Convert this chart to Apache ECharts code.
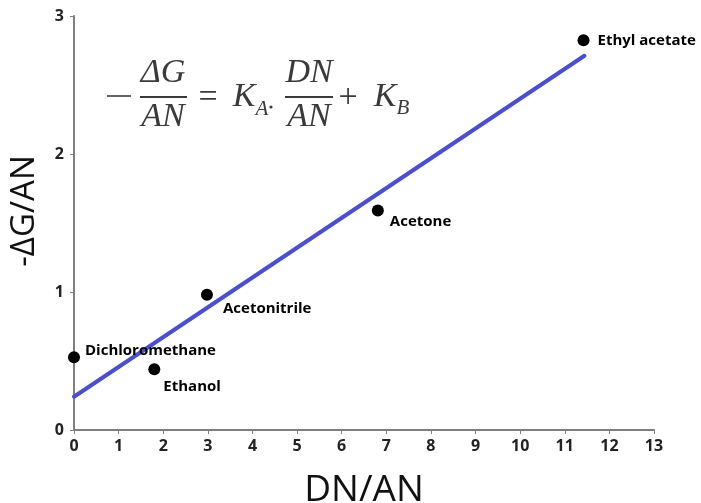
<!DOCTYPE html>
<html>
<head>
<meta charset="utf-8">
<script src="https://cdn.jsdelivr.net/npm/echarts@6/dist/echarts.min.js"></script>
<style>
  html, body { margin: 0; padding: 0; background: #ffffff; }
  #chart { width: 701px; height: 503px; }
</style>
</head>
<body>
<div id="chart"></div>
<script>
// Solvents: donor number / acceptor number vs. -ΔG / acceptor number
const solvents = ['Dichloromethane', 'Ethanol', 'Acetonitrile', 'Acetone', 'Ethyl acetate'];
const dnOverAn = [0.0, 1.80, 2.98, 6.81, 11.42];
const dGOverAn = [0.527, 0.44, 0.98, 1.59, 2.824];

// Linear fit -ΔG/AN = KA·DN/AN + KB, drawn over the span of the data
const fitX = [0, 11.44];
const fitY = [0.241, 2.712];

// Label offsets (px) for each solvent name relative to its point
const labelOffsets = [[0, -7], [-2, 17], [5, 14], [1, 11], [3, 0]];

const xTicks = { min: 0, max: 13, step: 1 };
const yTicks = { min: 0, max: 3, step: 1 };

const chart = echarts.init(document.getElementById('chart'), null, { renderer: 'canvas' });

const points = solvents.map((name, i) => ({
  name: name,
  value: [dnOverAn[i], dGOverAn[i]],
  label: { offset: labelOffsets[i] }
}));

const fitLine = fitX.map((x, i) => [x, fitY[i]]);

const tickFont = {
  fontFamily: 'Open Sans',
  fontWeight: 700,
  fontSize: 16,
  color: '#222222'
};

// Equation text drawn in the upper-left of the plot
const eqColor = '#3a3a3a';
const eqFont = 'italic 34px "Liberation Serif"';
const eqSubFont = 'italic 21px "Liberation Serif"';
const eqPlain = '34px "Liberation Serif"';
function eqText(str, x, y, font) {
  return {
    type: 'text', x: x, y: y,
    style: { text: str, font: font, fill: eqColor, align: 'center', verticalAlign: 'middle' }
  };
}
function eqBar(x1, x2, y, w) {
  return {
    type: 'line',
    shape: { x1: x1, y1: y, x2: x2, y2: y },
    style: { stroke: eqColor, lineWidth: w }
  };
}

const option = {
  backgroundColor: '#ffffff',
  animation: false,
  grid: { left: 74, right: 47, top: 16, bottom: 73, containLabel: false, outerBoundsMode: 'none' },
  xAxis: {
    type: 'value',
    min: xTicks.min, max: xTicks.max, interval: xTicks.step,
    name: 'DN/AN',
    nameLocation: 'middle',
    nameGap: 42,
    nameTextStyle: { fontFamily: 'Open Sans', fontSize: 37, color: '#111111' },
    axisLine: { show: true, onZero: false, lineStyle: { color: '#7f7f7f', width: 2 } },
    axisTick: { show: true, length: 4, lineStyle: { color: '#7f7f7f', width: 1 } },
    axisLabel: Object.assign({ margin: 8 }, tickFont),
    splitLine: { show: false }
  },
  yAxis: {
    type: 'value',
    min: yTicks.min, max: yTicks.max, interval: yTicks.step,
    name: '-ΔG/AN',
    nameLocation: 'middle',
    nameGap: 33,
    nameTextStyle: { fontFamily: 'Open Sans', fontSize: 33, color: '#111111', padding: [0, 0, 0, 24] },
    axisLine: { show: true, lineStyle: { color: '#7f7f7f', width: 2 } },
    axisTick: { show: true, length: 4, lineStyle: { color: '#7f7f7f', width: 1 } },
    axisLabel: Object.assign({ margin: 10 }, tickFont),
    splitLine: { show: false }
  },
  series: [
    {
      type: 'line',
      data: fitLine,
      symbol: 'none',
      lineStyle: { color: '#4a4fcf', width: 4, cap: 'round' },
      z: 2
    },
    {
      type: 'scatter',
      data: points,
      symbol: 'circle',
      symbolSize: 12,
      clip: false,
      itemStyle: { color: '#000000', opacity: 1 },
      label: {
        show: true,
        position: 'right',
        formatter: '{b}',
        fontFamily: 'Open Sans',
        fontWeight: 700,
        fontSize: 15,
        color: '#000000'
      },
      z: 3
    }
  ],
  graphic: [
    {
      type: 'group',
      children: [
        eqBar(107, 131, 96, 1.6),
        eqText('ΔG', 163, 73, eqFont),
        eqBar(140, 187, 97, 2),
        eqText('AN', 163, 117, eqFont),
        eqText('=', 208, 98, eqPlain),
        eqText('K', 244, 97, eqFont),
        eqText('A', 262, 109, eqSubFont),
        { type: 'circle', shape: { cx: 271, cy: 107, r: 1.6 }, style: { fill: eqColor } },
        eqText('DN', 309, 73, eqFont),
        eqBar(285, 333, 97, 2),
        eqText('AN', 309, 117, eqFont),
        eqText('+', 348, 98, eqPlain),
        eqText('K', 385, 97, eqFont),
        eqText('B', 403, 108, eqSubFont)
      ]
    }
  ]
};

chart.setOption(option);
</script>
</body>
</html>
